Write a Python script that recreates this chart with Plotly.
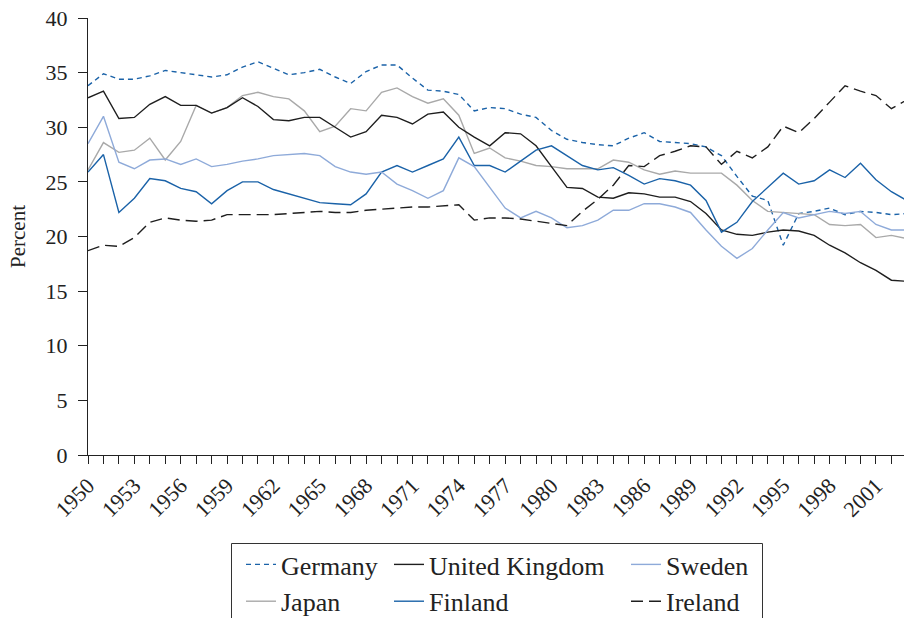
import plotly.graph_objects as go

years = list(range(1950, 2004))

germany = [33.8, 34.9, 34.4, 34.4, 34.7, 35.2, 35.0, 34.8, 34.6, 34.8,
           35.5, 36.0, 35.4, 34.8, 35.0, 35.3, 34.6, 34.0, 35.1, 35.7,
           35.7, 34.5, 33.4, 33.3, 33.0, 31.5, 31.8, 31.7, 31.2, 30.9,
           29.7, 28.9, 28.6, 28.4, 28.3, 29.0, 29.5, 28.7, 28.6, 28.5,
           28.2, 27.4, 25.5, 23.7, 23.3, 19.2, 22.1, 22.3, 22.6, 22.0,
           22.3, 22.2, 22.0, 22.1]
uk = [32.7, 33.3, 30.8, 30.9, 32.1, 32.8, 32.0, 32.0, 31.3, 31.8,
      32.7, 31.9, 30.7, 30.6, 30.9, 30.9, 30.0, 29.1, 29.6, 31.1,
      30.9, 30.3, 31.2, 31.4, 30.0, 29.1, 28.3, 29.5, 29.4, 28.3,
      26.4, 24.5, 24.4, 23.6, 23.5, 24.0, 23.9, 23.6, 23.6, 23.2,
      22.1, 20.6, 20.2, 20.1, 20.4, 20.6, 20.5, 20.1, 19.2, 18.5,
      17.6, 16.9, 16.0, 15.9]
sweden = [28.5, 31.0, 26.8, 26.2, 27.0, 27.1, 26.6, 27.1, 26.4, 26.6,
          26.9, 27.1, 27.4, 27.5, 27.6, 27.4, 26.4, 25.9, 25.7, 25.9,
          24.8, 24.2, 23.5, 24.2, 27.2, 26.4, 24.5, 22.6, 21.7, 22.3,
          21.7, 20.8, 21.0, 21.5, 22.4, 22.4, 23.0, 23.0, 22.7, 22.2,
          20.6, 19.1, 18.0, 18.9, 20.6, 22.2, 21.7, 22.0, 22.3, 22.1,
          22.3, 21.1, 20.6, 20.6]
japan = [26.1, 28.6, 27.7, 27.9, 29.0, 27.0, 28.7, 32.0, 31.3, 31.8,
         32.9, 33.2, 32.8, 32.6, 31.5, 29.6, 30.1, 31.7, 31.5, 33.2,
         33.6, 32.8, 32.2, 32.6, 31.1, 27.6, 28.1, 27.2, 26.9, 26.5,
         26.4, 26.2, 26.2, 26.2, 27.0, 26.8, 26.1, 25.7, 26.0, 25.8,
         25.8, 25.8, 24.7, 23.3, 22.3, 22.2, 22.1, 22.0, 21.1, 21.0,
         21.1, 19.9, 20.1, 19.8]
finland = [25.9, 27.5, 22.2, 23.5, 25.3, 25.1, 24.4, 24.1, 23.0, 24.2,
           25.0, 25.0, 24.3, 23.9, 23.5, 23.1, 23.0, 22.9, 23.9, 25.9,
           26.5, 25.9, 26.5, 27.1, 29.1, 26.5, 26.5, 25.9, 26.9, 27.9,
           28.3, 27.4, 26.5, 26.1, 26.3, 25.6, 24.8, 25.3, 25.1, 24.7,
           23.3, 20.4, 21.3, 23.2, 24.5, 25.8, 24.8, 25.1, 26.1, 25.4,
           26.7, 25.2, 24.1, 23.3]
ireland = [18.7, 19.2, 19.1, 19.9, 21.3, 21.7, 21.5, 21.4, 21.5, 22.0,
           22.0, 22.0, 22.0, 22.1, 22.2, 22.3, 22.2, 22.2, 22.4, 22.5,
           22.6, 22.7, 22.7, 22.8, 22.9, 21.5, 21.7, 21.7, 21.6, 21.4,
           21.2, 21.0, 22.3, 23.4, 24.7, 26.5, 26.4, 27.4, 27.8, 28.3,
           28.2, 26.6, 27.8, 27.2, 28.2, 30.1, 29.5, 30.8, 32.3, 33.8,
           33.3, 32.9, 31.7, 32.5]

x_tick_vals = list(range(1950, 2002, 3))
x_tick_text = [str(v) for v in x_tick_vals]
y_tick_vals = [0, 5, 10, 15, 20, 25, 30, 35, 40]

FONT = "Liberation Serif"
TXT = "#222"
BLUE = "#1a62a8"

series = [
    ("Germany", germany, BLUE, "5px,4px", "legend"),
    ("Japan", japan, "#a9a9a9", "solid", "legend"),
    ("United Kingdom", uk, "#1e1e1e", "solid", "legend2"),
    ("Finland", finland, BLUE, "solid", "legend2"),
    ("Sweden", sweden, "#8eaad9", "solid", "legend3"),
    ("Ireland", ireland, "#1e1e1e", "12px,6px", "legend3"),
]

fig = go.Figure()
for name, vals, color, dash, leg in series:
    fig.add_trace(go.Scatter(
        x=years, y=vals, mode="lines", name=name,
        line=dict(color=color, width=1.4, dash=dash),
        legend=leg,
    ))

# body margin is removed by post_script, so figure pixels == page pixels
W, H = 904, 618
L, R, T, B = 88, 0, 18, 163
pw, ph = W - L - R, H - T - B


def px_x(p):
    return (p - L) / pw


def px_y(p):
    return (H - B - p) / ph


leg_common = dict(
    orientation="v", xanchor="left", yanchor="top",
    font=dict(family=FONT, size=26, color=TXT),
    bgcolor="rgba(0,0,0,0)", borderwidth=0, tracegroupgap=0,
)

fig.update_layout(
    width=W, height=H,
    margin=dict(l=L, r=R, t=T, b=B, autoexpand=False),
    paper_bgcolor="white", plot_bgcolor="white",
    font=dict(family=FONT, size=21, color=TXT),
    showlegend=True,
    legend=dict(x=px_x(241), y=px_y(541), **leg_common),
    legend2=dict(x=px_x(389), y=px_y(541), **leg_common),
    legend3=dict(x=px_x(626), y=px_y(541), **leg_common),
    xaxis=dict(
        range=[1950, 1950 + pw / 15.45],
        tickmode="array", tickvals=x_tick_vals, ticktext=x_tick_text,
        tickangle=-45, ticks="outside", ticklen=8, tickcolor=TXT,
        tickfont=dict(family=FONT, size=22, color=TXT),
        ticklabeloverflow="allow",
        minor=dict(dtick=1, tick0=1950, ticks="outside", ticklen=8,
                   tickcolor=TXT, showgrid=False),
        showline=True, linecolor=TXT, linewidth=1,
        showgrid=False, zeroline=False,
    ),
    yaxis=dict(
        range=[0, 40], tickvals=y_tick_vals,
        ticks="outside", ticklen=9, tickcolor=TXT, ticklabelstandoff=6,
        tickfont=dict(family=FONT, size=22, color=TXT),
        ticklabeloverflow="allow",
        showline=True, linecolor=TXT, linewidth=1,
        showgrid=False, zeroline=False,
        title=dict(text="Percent", font=dict(family=FONT, size=21, color=TXT),
                   standoff=14),
    ),
    shapes=[dict(
        type="rect", xref="paper", yref="paper",
        x0=px_x(231.5), x1=px_x(762.5), y0=px_y(543.5), y1=px_y(640),
        line=dict(color="#333", width=1), fillcolor="rgba(0,0,0,0)",
    )],
)

fig.write_html("out.html", config={"displayModeBar": False},
               post_script="document.body.style.margin='0';")
